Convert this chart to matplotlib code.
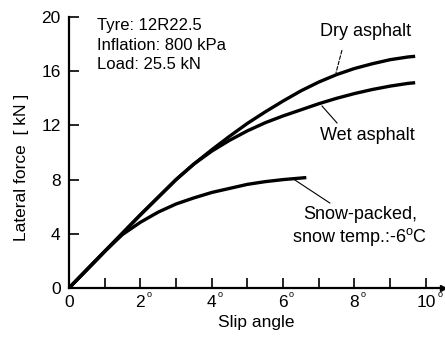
import matplotlib.pyplot as plt

plt.rcParams.update({
    'font.family': ['Liberation Sans', 'DejaVu Sans'],
    'mathtext.fontset': 'custom',
    'mathtext.rm': 'Liberation Sans',
    'mathtext.it': 'Liberation Sans',
})

# Lateral force [kN] against slip angle [deg], read every half degree
dry_angle = [0, 0.5, 1, 1.5, 2, 2.5, 3, 3.5, 4, 4.5, 5, 5.5, 6, 6.5, 7, 7.5, 8, 8.5, 9, 9.5, 9.7]
dry_force = [0, 1.35, 2.7, 4.05, 5.4, 6.7, 8.0, 9.15, 10.2, 11.2, 12.15, 13.0, 13.8, 14.55,
             15.2, 15.75, 16.2, 16.55, 16.85, 17.05, 17.1]

wet_angle = [0, 0.5, 1, 1.5, 2, 2.5, 3, 3.5, 4, 4.5, 5, 5.5, 6, 6.5, 7, 7.5, 8, 8.5, 9, 9.5, 9.7]
wet_force = [0, 1.35, 2.7, 4.05, 5.4, 6.7, 8.0, 9.15, 10.1, 10.9, 11.6, 12.2, 12.7, 13.15,
             13.6, 14.0, 14.35, 14.65, 14.9, 15.1, 15.15]

snow_angle = [0, 0.5, 1, 1.5, 2, 2.5, 3, 3.5, 4, 4.5, 5, 5.5, 6, 6.65]
snow_force = [0, 1.35, 2.7, 3.95, 4.85, 5.6, 6.2, 6.65, 7.05, 7.35, 7.65, 7.85, 8.0, 8.15]

x_ticks = [0, 1, 2, 3, 4, 5, 6, 7, 8, 9, 10]
x_labels = ['0', '', '2', '', '4', '', '6', '', '8', '', '10']
y_ticks = [0, 4, 8, 12, 16, 20]

tyre_info = ['Tyre: 12R22.5', 'Inflation: 800 kPa', 'Load: 25.5 kN']

fig = plt.figure(figsize=(4.45, 3.47), dpi=100)
ax = fig.add_axes([69 / 445, 59 / 347, 374 / 445, 271 / 347])

for xs, ys in [(dry_angle, dry_force), (wet_angle, wet_force), (snow_angle, snow_force)]:
    ax.plot(xs, ys, color='black', lw=2.4, solid_capstyle='butt', solid_joinstyle='round')

ax.set_xlim(0, 10.48)
ax.set_ylim(0, 20)

for side in ['top', 'right']:
    ax.spines[side].set_visible(False)
ax.spines['left'].set_linewidth(1.6)
ax.spines['bottom'].set_linewidth(1.6)

ax.set_xticks(x_ticks)
ax.set_xticklabels(x_labels)
ax.set_yticks(y_ticks)
ax.tick_params(direction='in', length=7, width=1.2, labelsize=12.5)
ax.tick_params(axis='x', pad=5)
ax.tick_params(axis='y', pad=6)

# degree marks next to the even tick labels
for v in x_ticks[2::2]:
    off = 6 if v < 10 else 10
    ax.annotate('o', xy=(v, 0), xytext=(off, -5), textcoords='offset points',
                fontsize=6.5, ha='center', va='center', annotation_clip=False)

# arrowhead at the end of the slip angle axis
ax.plot([10.48], [0], marker='>', color='black', markersize=4, clip_on=False)

ax.set_xlabel('Slip angle', fontsize=12.5, labelpad=4)
fig.text(22 / 445, 1 - 167 / 347, 'Lateral force  [ kN ]', rotation=90,
         fontsize=12.5, ha='center', va='center')

for i, line in enumerate(tyre_info):
    ax.text(0.78, 19.04 - i * 1.45, line, fontsize=12, va='baseline')

ax.text(7.03, 18.6, 'Dry asphalt', fontsize=13, va='baseline')
ax.plot([7.65, 7.48], [17.56, 15.87], color='black', lw=0.8, dashes=(4, 1))

ax.text(7.03, 10.92, 'Wet asphalt', fontsize=13, va='baseline')
ax.plot([7.09, 7.51], [13.43, 12.18], color='black', lw=0.8)

ax.text(8.15, 5.09, 'Snow-packed,', fontsize=13, ha='center', va='baseline')
ax.text(8.15, 3.39, r'snow temp.:-6$^{\rm o}$C', fontsize=13, ha='center', va='baseline')
ax.plot([6.33, 7.31], [7.97, 6.27], color='black', lw=0.8)

fig.savefig('out.png', dpi=100)
